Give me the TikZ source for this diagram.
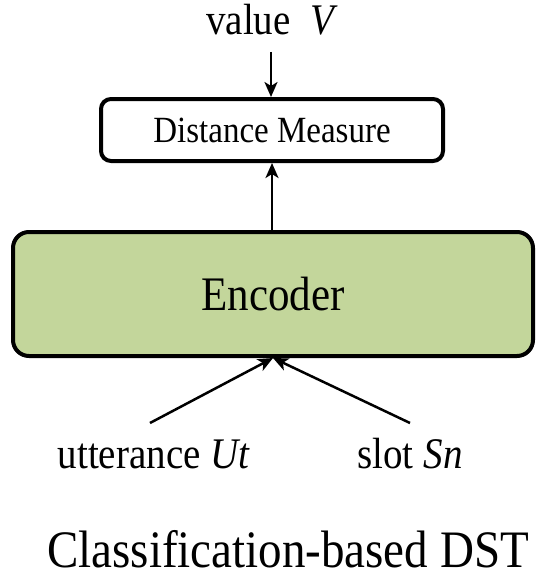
\documentclass[tikz,border=0pt]{standalone}
\usepackage{graphicx}
\usepackage{fontspec}
\setmainfont{Liberation Serif}
\usetikzlibrary{arrows.meta}
\definecolor{encfill}{HTML}{C3D69B}
% slightly taller lettering
\newcommand\talltext[1]{\scalebox{1}[1.12]{#1}}
\begin{document}
\begin{tikzpicture}[x=1pt,y=-1pt,
  box/.style={draw=black, line width=4pt, inner sep=0pt},
  link/.style={line width=2.5pt, -{Stealth[length=15pt,width=13pt,inset=4pt]}},
  lbl/.style={inner sep=0pt, anchor=base, font=\fontsize{39}{39}\selectfont}]
\useasboundingbox (0,0) rectangle (543,578);

% boxes
\node[box, rounded corners=10pt, minimum width=342pt, minimum height=62pt,
      font=\fontsize{33}{33}\selectfont, text height=24.5pt, text depth=0pt]
      (dist) at (272,130) {\talltext{Distance Measure}};
\node[box, rounded corners=16pt, fill=encfill, minimum width=520pt, minimum height=124pt,
      font=\fontsize{43}{43}\selectfont, text height=32pt, text depth=0pt]
      (enc) at (273,294) {\talltext{Encoder}};

% text labels
\node[lbl] (val) at (272,35) {\talltext{value \ \textit{V}}};
\node[lbl] (utt) at (154,468) {\talltext{utterance \textit{Ut}}};
\node[lbl] (slot) at (410,468) {\talltext{slot \textit{Sn}}};
\node[inner sep=0pt, anchor=base, font=\fontsize{47}{47}\selectfont]
      (title) at (288,567) {\talltext{Classification-based DST}};

% connectors
\coordinate (vtop) at (271,52);
\coordinate (ustart) at (150,423);
\coordinate (sstart) at (410,423);
\draw[link] (vtop) -- (dist.north -| vtop);
\draw[link] (enc.north -| dist.south) -- (dist.south);
\draw[link] (ustart) -- (enc.south);
\draw[link] (sstart) -- (enc.south);
\end{tikzpicture}
\end{document}
